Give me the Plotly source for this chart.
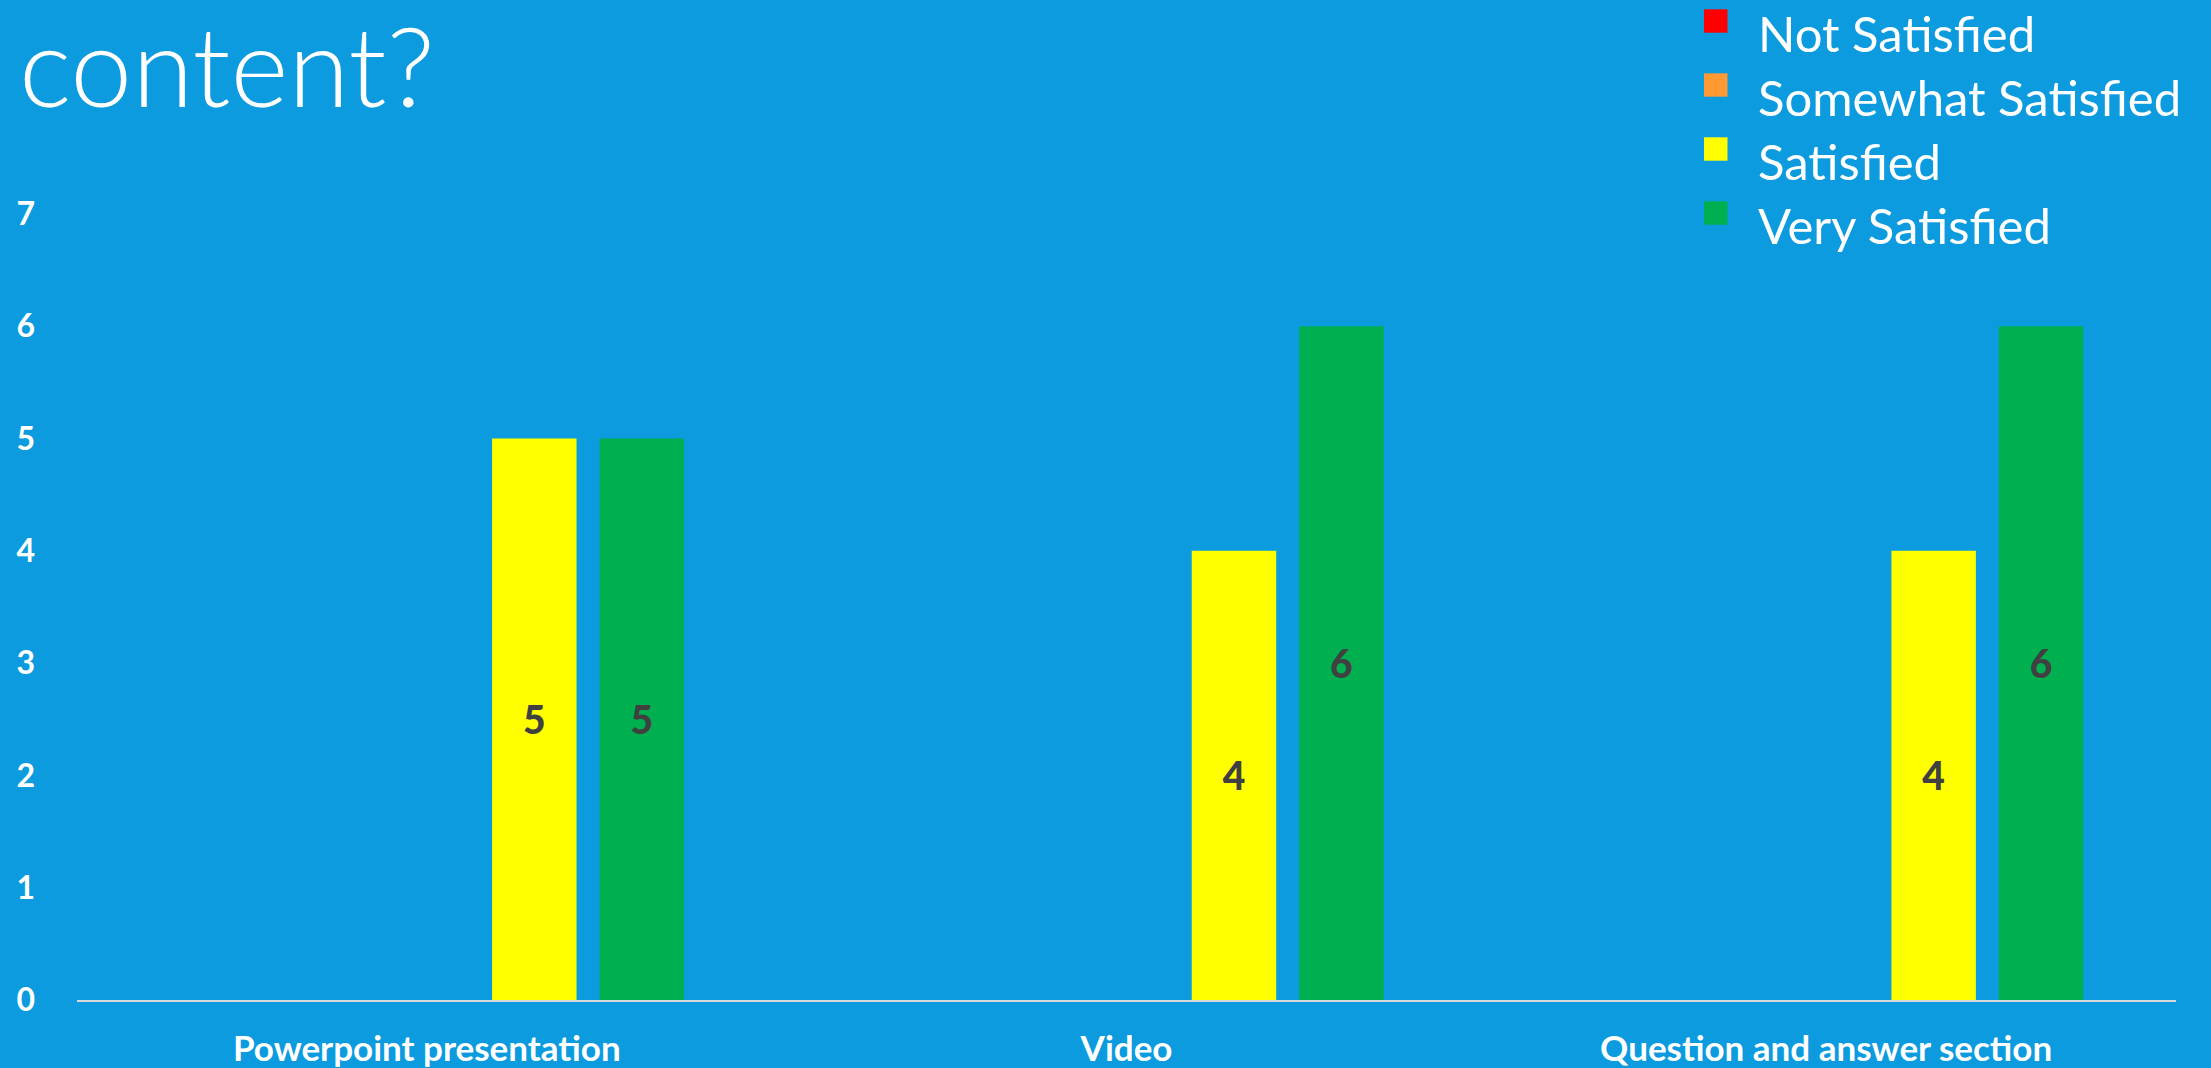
import plotly.graph_objects as go

categories = ["Powerpoint presentation", "Video", "Question and answer section"]
series_names = ["", "Not Satisfied", "Somewhat Satisfied", "Satisfied", "Very Satisfied"]
hidden_series = [0, 0, 0]
not_satisfied = [0, 0, 0]
somewhat_satisfied = [0, 0, 0]
satisfied = [5, 4, 4]
very_satisfied = [5, 6, 6]
y_ticks = [0, 1, 2, 3, 4, 5, 6, 7]
title_text = "content?"

series_values = [hidden_series, not_satisfied, somewhat_satisfied, satisfied, very_satisfied]
colors = ["rgba(0,0,0,0)", "#FF0000", "#FF9933", "#FFFF00", "#00B050"]
show_in_legend = [False, True, True, True, True]

BG = "#0B9BDE"
FONT = "Lato"
W, H = 2211, 1068
ML, MR, MT, MB = 77, 35, 214, 68
PW, PH = W - ML - MR, H - MT - MB


def px_x(px):
    return (px - ML) / PW


def px_y(py):
    return (H - MB - py) / PH


fig = go.Figure()
for name, vals, col in zip(series_names, series_values, colors):
    fig.add_trace(go.Bar(
        x=categories,
        y=vals,
        name=name,
        marker=dict(color=col, line=dict(width=0)),
        text=[str(v) if v else "" for v in vals],
        textposition="inside",
        insidetextanchor="middle",
        textangle=0,
        textfont=dict(family=FONT, size=39, color="#404040", weight=900),
        showlegend=False,
    ))

# legend drawn as layout decorations (large square keys like the original)
shapes = []
annotations = []
row = 0
for name, col, show in zip(series_names, colors, show_in_legend):
    if not show:
        continue
    cy = 21 + 64 * row
    shapes.append(dict(
        type="rect", xref="paper", yref="paper",
        x0=px_x(1704), x1=px_x(1727.5),
        y0=px_y(cy + 11.7), y1=px_y(cy - 11.7),
        fillcolor=col, line=dict(width=0), layer="above",
    ))
    annotations.append(dict(
        text=name, xref="paper", yref="paper",
        x=px_x(1756), y=px_y(cy + 12),
        xanchor="left", yanchor="middle", showarrow=False,
        font=dict(family=FONT, size=49, color="white"),
    ))
    row += 1

fig.update_layout(
    width=W,
    height=H,
    barmode="group",
    bargap=0.232,
    bargroupgap=0.214,
    paper_bgcolor=BG,
    plot_bgcolor=BG,
    margin=dict(l=ML, r=MR, t=MT, b=MB, pad=0, autoexpand=False),
    font=dict(family=FONT, color="white"),
    showlegend=False,
    shapes=shapes,
    annotations=annotations,
    title=dict(
        text=title_text,
        x=19 / W,
        xanchor="left",
        y=1 - 68 / H,
        yanchor="middle",
        font=dict(family=FONT, size=111, color="white", weight=300),
    ),
    xaxis=dict(
        showgrid=False,
        showline=True,
        linecolor="#D9D9D9",
        linewidth=2,
        ticks="",
        tickfont=dict(family=FONT, size=35, color="white", weight="bold"),
        ticklabelstandoff=17,
        zeroline=False,
        automargin=False,
    ),
    yaxis=dict(
        range=[0, 7],
        tickvals=y_ticks,
        showgrid=False,
        showline=False,
        zeroline=False,
        ticks="",
        tickfont=dict(family=FONT, size=32, color="white", weight="bold"),
        ticklabelstandoff=41,
        automargin=False,
    ),
)

fig.write_html(
    "out.html",
    config={"displayModeBar": False},
    post_script="document.body.style.margin='0';document.body.style.overflow='hidden';document.body.style.background='" + BG + "';",
)
